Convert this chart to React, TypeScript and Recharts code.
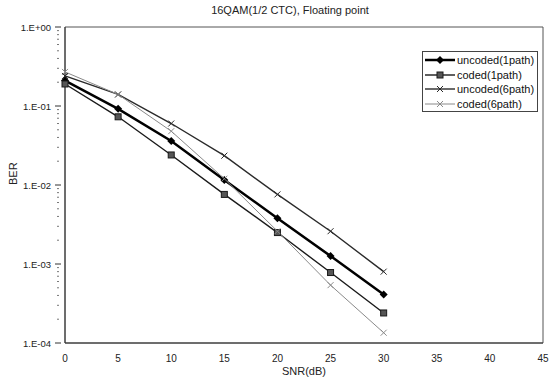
import { Line, LineChart, XAxis, YAxis, ReferenceArea } from "recharts"

const snr = [0, 5, 10, 15, 20, 25, 30]
const uncoded1 = [0.21, 0.092, 0.036, 0.0116, 0.0038, 0.00126, 0.00041]
const coded1 = [0.19, 0.073, 0.024, 0.0076, 0.0025, 0.00078, 0.00024]
const uncoded6 = [0.24, 0.14, 0.06, 0.0235, 0.0076, 0.0026, 0.0008]
const coded6 = [0.27, 0.14, 0.048, 0.012, 0.0026, 0.00054, 0.000135]

const xTicks = [0, 5, 10, 15, 20, 25, 30, 35, 40, 45]
const majorY = [1, 0.1, 0.01, 0.001, 0.0001]
const yLabels = ["1.E+00", "1.E-01", "1.E-02", "1.E-03", "1.E-04"]

// minor log ticks 2..9 in each decade
const minorY: number[] = []
for (let d = -4; d < 0; d++) {
  for (let m = 2; m <= 9; m++) minorY.push(m * Math.pow(10, d))
}
const allY = [...majorY, ...minorY]

const data = snr.map((s, i) => ({
  snr: s,
  uncoded1: uncoded1[i],
  coded1: coded1[i],
  uncoded6: uncoded6[i],
  coded6: coded6[i],
}))

const font = "'Liberation Sans', Arial, sans-serif"

const Diamond = ({ cx, cy, color }: any) => (
  <polygon points={`${cx},${cy - 4} ${cx + 4},${cy} ${cx},${cy + 4} ${cx - 4},${cy}`} fill={color} />
)
const Square = ({ cx, cy, color }: any) => (
  <rect x={cx - 3} y={cy - 3} width={6} height={6} fill="#555" stroke={color} strokeWidth={1} />
)
const Cross = ({ cx, cy, color }: any) => (
  <g stroke={color} strokeWidth={1}>
    <line x1={cx - 3} y1={cy - 3} x2={cx + 3} y2={cy + 3} />
    <line x1={cx - 3} y1={cy + 3} x2={cx + 3} y2={cy - 3} />
  </g>
)

const series = [
  { key: "uncoded1", name: "uncoded(1path)", color: "#000", width: 2.5, Marker: Diamond },
  { key: "coded1", name: "coded(1path)", color: "#1a1a1a", width: 1.4, Marker: Square },
  { key: "uncoded6", name: "uncoded(6path)", color: "#2a2a2a", width: 1.4, Marker: Cross },
  { key: "coded6", name: "coded(6path)", color: "#8a8a8a", width: 1, Marker: Cross },
]

const YTick = ({ x, y, payload }: any) => {
  const idx = majorY.indexOf(payload.value)
  if (idx < 0) {
    return <line x1={x} x2={x + 2} y1={y} y2={y} stroke="#777" strokeWidth={1} />
  }
  return (
    <g>
      <line x1={x - 2} x2={x + 4} y1={y} y2={y} stroke="#333" strokeWidth={1} />
      <text x={x - 6} y={y} dy={3.5} textAnchor="end" fontSize={9.5} fill="#222" fontFamily={font}>
        {yLabels[idx]}
      </text>
    </g>
  )
}

const LegendBox = () => (
  <div
    style={{
      position: "absolute",
      left: 422,
      top: 51,
      border: "1px solid #444",
      background: "#fff",
      padding: "1px 3px 0px 2px",
      fontFamily: font,
      fontSize: 11,
      color: "#111",
    }}
  >
    {series.map((s) => (
      <div key={s.key} style={{ display: "flex", alignItems: "center", height: 14.5 }}>
        <svg width={30} height={12}>
          <line x1={0} x2={30} y1={6} y2={6} stroke={s.color} strokeWidth={s.width} />
          <s.Marker cx={15} cy={6} color={s.color} />
        </svg>
        <span style={{ marginLeft: 2 }}>{s.name}</span>
      </div>
    ))}
  </div>
)

export default function App() {
  return (
    <div style={{ position: "absolute", left: 0, top: 0, width: 555, height: 380, background: "#fff" }}>
      <div
        style={{
          position: "absolute",
          top: 4,
          left: 0,
          width: 580,
          textAlign: "center",
          fontFamily: font,
          fontSize: 11,
          color: "#222",
        }}
      >
        16QAM(1/2 CTC), Floating point
      </div>
      <LineChart width={555} height={380} data={data} margin={{ top: 27, right: 12, bottom: 0, left: 0 }}>
        <XAxis
          dataKey="snr"
          type="number"
          domain={[0, 45]}
          ticks={xTicks}
          interval={0}
          height={37}
          axisLine={{ stroke: "#333" }}
          tickLine={false}
          tick={{ fontSize: 10, fill: "#222", fontFamily: font }}
          tickMargin={6}
          label={{ value: "SNR(dB)", position: "insideBottom", offset: 5, fontSize: 11, fill: "#222", fontFamily: font }}
        />
        <YAxis
          type="number"
          scale="log"
          domain={[0.0001, 1]}
          ticks={allY}
          interval={0}
          width={65}
          allowDataOverflow
          axisLine={{ stroke: "#333" }}
          tickLine={false}
          tick={<YTick />}
          label={{ value: "BER", angle: -90, position: "insideLeft", offset: 13, fontSize: 11, fill: "#222", fontFamily: font }}
        />
        <ReferenceArea x1={0} x2={45} y1={0.0001} y2={1} fill="none" stroke="#555" strokeWidth={1} />
        {series.map((s) => (
          <Line
            key={s.key}
            dataKey={s.key}
            name={s.name}
            stroke={s.color}
            strokeWidth={s.width}
            isAnimationActive={false}
            dot={(p: any) => <s.Marker key={`${s.key}-${p.index}`} cx={p.cx} cy={p.cy} color={s.color} />}
            activeDot={false}
          />
        ))}
      </LineChart>
      <LegendBox />
    </div>
  )
}
